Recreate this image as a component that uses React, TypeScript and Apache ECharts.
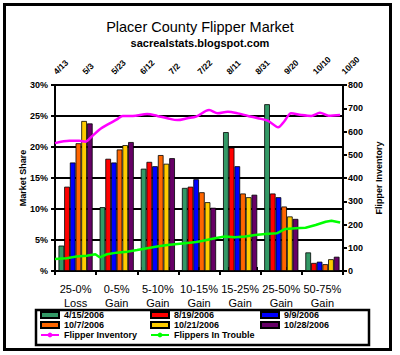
import React, { useEffect, useRef } from 'react';
import * as echarts from 'echarts';

const categories = ['25-0%\nLoss', '0-5%\nGain', '5-10%\nGain', '10-15%\nGain', '15-25%\nGain', '25-50%\nGain', '50-75%\nGain'];

const barSeriesNames = ['4/15/2006', '8/19/2006', '9/9/2006', '10/7/2006', '10/21/2006', '10/28/2006'];
const share0415 = [4.1, 10.3, 16.5, 13.4, 22.4, 26.9, 3.0];
const share0819 = [13.6, 18.1, 17.6, 13.6, 19.9, 12.5, 1.3];
const share0909 = [17.5, 17.5, 16.9, 14.8, 16.9, 11.9, 1.5];
const share1007 = [20.6, 19.6, 18.7, 12.7, 12.5, 10.4, 1.1];
const share1021 = [24.2, 20.3, 17.3, 11.1, 11.9, 8.8, 1.9];
const share1028 = [23.8, 20.8, 18.2, 10.2, 12.3, 8.4, 2.3];
const barColors = ['#339966', '#FF0000', '#0000FF', '#FF6600', '#FFCC00', '#660066'];

// days since 4/13/2006
const inventoryDays = [0, 10, 17, 21, 26, 31, 38, 43, 47, 54, 64, 71, 78, 85, 92, 98, 107, 113, 120, 127, 134, 141, 148, 155, 159, 164, 171, 178, 184, 190, 198];
const inventoryValues = [550, 560, 560, 556, 581, 609, 635, 652, 667, 667, 675, 667, 657, 649, 657, 664, 692, 678, 685, 678, 667, 657, 646, 618, 642, 678, 671, 667, 681, 668, 671];
const troubleDays = [0, 8, 15, 22, 28, 31, 36, 43, 50, 57, 64, 71, 78, 85, 92, 98, 102, 111, 118, 125, 132, 139, 146, 154, 160, 167, 174, 181, 188, 192, 198];
const troubleValues = [52, 55, 62, 66, 72, 59, 72, 79, 83, 90, 98, 105, 112, 116, 120, 125, 129, 141, 148, 145, 148, 155, 159, 162, 181, 184, 186, 198, 212, 216, 209];

const FONT = '"Liberation Sans", Arial, sans-serif';

function dayLabel(v: number): string {
  const d = new Date(2006, 3, 13 + v);
  return `${d.getMonth() + 1}/${d.getDate()}`;
}

export default function App() {
  const ref = useRef<HTMLDivElement>(null);
  useEffect(() => {
    const chart = echarts.init(ref.current!, null, { renderer: 'svg' });
    const shares = [share0415, share0819, share0909, share1007, share1021, share1028];
    const barSeries = shares.map((arr, i) => ({
      name: barSeriesNames[i],
      type: 'bar',
      xAxisIndex: 0,
      yAxisIndex: 0,
      data: arr,
      barGap: '0%',
      barCategoryGap: '17%',
      itemStyle: { color: barColors[i], borderColor: '#000', borderWidth: 0.8 },
      z: 2,
    }));
    const legendText = { fontSize: 9, fontWeight: 'bold', color: '#000', fontFamily: FONT, lineHeight: 10 };
    const legendBase = {
      orient: 'vertical',
      top: 310,
      itemWidth: 18,
      itemHeight: 6,
      itemGap: 0,
      padding: 0,
      textStyle: legendText,
    };
    chart.setOption({
      animation: false,
      backgroundColor: '#fff',
      title: [
        { text: 'Placer County Flipper Market', left: 'center', top: 14, textStyle: { fontSize: 14.5, fontWeight: 'normal', color: '#000', fontFamily: FONT } },
        { text: 'sacrealstats.blogspot.com', left: 'center', top: 32, textStyle: { fontSize: 11, fontWeight: 'bold', color: '#000', fontFamily: FONT } },
      ],
      legend: [
        { ...legendBase, left: 40, data: [{ name: '4/15/2006', icon: 'rect' }, { name: '10/7/2006', icon: 'rect' }, 'Flipper Inventory'] },
        { ...legendBase, left: 150, data: [{ name: '8/19/2006', icon: 'rect' }, { name: '10/21/2006', icon: 'rect' }, 'Flippers In Trouble'] },
        { ...legendBase, left: 260, data: [{ name: '9/9/2006', icon: 'rect' }, { name: '10/28/2006', icon: 'rect' }] },
      ],
      grid: { left: 55, right: 57, top: 85, bottom: 84 },
      xAxis: [
        {
          type: 'category',
          position: 'bottom',
          data: categories,
          axisLine: { show: true, lineStyle: { color: '#000', width: 2 } },
          axisTick: { show: true, length: 4, lineStyle: { color: '#000', width: 2 } },
          axisLabel: { interval: 0, color: '#000', fontSize: 11, fontFamily: FONT, lineHeight: 14, margin: 11 },
        },
        {
          type: 'value',
          position: 'top',
          min: 0,
          max: 200,
          interval: 20,
          axisLine: { show: true, lineStyle: { color: '#000', width: 2 } },
          axisTick: { show: true, length: 4, lineStyle: { color: '#000', width: 2 } },
          splitLine: { show: false },
          axisLabel: { color: '#000', fontSize: 8.5, fontWeight: 'bold', fontFamily: FONT, rotate: 45, margin: 12, formatter: (v: number) => dayLabel(v), showMinLabel: true, showMaxLabel: true, hideOverlap: false },
        },
      ],
      yAxis: [
        {
          type: 'value',
          position: 'left',
          min: 0,
          max: 30,
          interval: 5,
          name: 'Market Share',
          nameLocation: 'middle',
          nameRotate: 90,
          nameGap: 28,
          nameMoveOverlap: false,
          nameTextStyle: { color: '#000', fontSize: 9, fontWeight: 'bold', fontFamily: FONT },
          axisLine: { show: true, lineStyle: { color: '#000', width: 2 } },
          axisTick: { show: true, length: 4, lineStyle: { color: '#000', width: 2 } },
          splitLine: { show: true, lineStyle: { color: '#000', width: 2 } },
          axisLabel: { color: '#000', fontSize: 9, fontWeight: 'bold', fontFamily: FONT, margin: 7, formatter: (v: number) => (v === 0 ? '%' : `${v}%`) },
        },
        {
          type: 'value',
          position: 'right',
          min: 0,
          max: 800,
          interval: 100,
          name: 'Flipper Inventory',
          nameLocation: 'middle',
          nameRotate: 90,
          nameGap: 31,
          nameMoveOverlap: false,
          nameTextStyle: { color: '#000', fontSize: 9, fontWeight: 'bold', fontFamily: FONT },
          axisLine: { show: true, lineStyle: { color: '#000', width: 2 } },
          axisTick: { show: true, length: 4, lineStyle: { color: '#000', width: 2 } },
          splitLine: { show: false },
          axisLabel: { color: '#000', fontSize: 9, fontWeight: 'bold', fontFamily: FONT, margin: 5 },
        },
      ],
      series: [
        ...barSeries,
        {
          name: 'Flipper Inventory',
          type: 'line',
          xAxisIndex: 1,
          yAxisIndex: 1,
          data: inventoryDays.map((d, i) => [d, inventoryValues[i]]),
          showSymbol: false,
          symbol: 'none',
          smooth: 0.3,
          lineStyle: { color: '#FF00FF', width: 2.5 },
          itemStyle: { color: '#FF00FF' },
          z: 5,
        },
        {
          name: 'Flippers In Trouble',
          type: 'line',
          xAxisIndex: 1,
          yAxisIndex: 1,
          data: troubleDays.map((d, i) => [d, troubleValues[i]]),
          showSymbol: false,
          symbol: 'none',
          lineStyle: { color: '#00FF00', width: 2.5 },
          itemStyle: { color: '#00FF00' },
          z: 5,
        },
      ],
      graphic: [
        { type: 'rect', shape: { x: 4.5, y: 4.5, width: 386, height: 345 }, style: { fill: 'none', stroke: '#000', lineWidth: 3 }, silent: true },
        { type: 'rect', shape: { x: 36, y: 310, width: 333, height: 35 }, style: { fill: 'none', stroke: '#000', lineWidth: 2.5 }, silent: true },
      ],
    });
    return () => chart.dispose();
  }, []);
  return <div ref={ref} style={{ position: 'absolute', left: 0, top: 0, width: 400, height: 355, background: '#fff' }} />;
}
